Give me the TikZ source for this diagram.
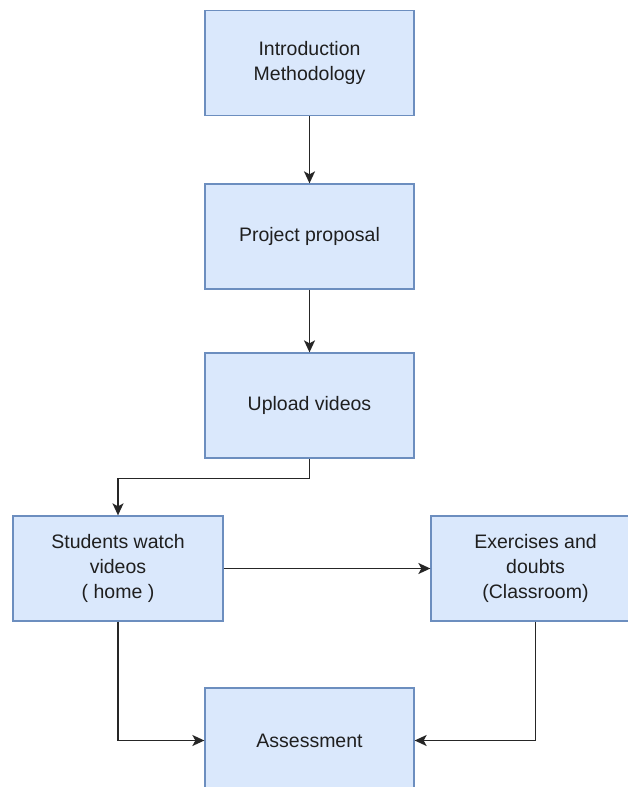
\documentclass[tikz,border=0pt]{standalone}
\usepackage{fontspec}
\setmainfont{Liberation Sans}
\usetikzlibrary{arrows.meta}
\definecolor{boxfill}{HTML}{DAE8FC}
\definecolor{boxline}{HTML}{6C8EBF}
\definecolor{txt}{HTML}{1F1F1F}
\begin{document}
\begin{tikzpicture}[x=1pt,y=-1pt,
  flowbox/.style={draw=boxline,fill=boxfill,line width=1.3pt,minimum width=209pt,minimum height=105pt,
    align=center,text=txt,font=\fontsize{19.5}{25}\selectfont,inner sep=0pt},
  arr/.style={draw=black!85,line width=1.6pt,-{Stealth[length=12pt,width=11pt,inset=3pt]}}]
\useasboundingbox (0,0) rectangle (628,787);
\clip (0,0) rectangle (628,787);
\node[flowbox] (b1) at (309.5,63) {Introduction\\Methodology};
\node[flowbox] (b2) at (309.5,236.5) {Project proposal};
\node[flowbox] (b3) at (309.5,405.5) {Upload videos};
\node[flowbox,minimum width=210pt] (b4) at (118,568.5) {Students watch\\videos\\( home )};
\node[flowbox] (b5) at (535.5,568.5) {Exercises and\\doubts\\(Classroom)};
\node[flowbox] (b6) at (309.5,740.5) {Assessment};
\draw[arr] (b1.south) -- (b2.north);
\draw[arr] (b2.south) -- (b3.north);
\draw[arr] (b3.south) -- ++(0,20) -| (b4.north);
\draw[arr] (b4.east) -- (b5.west);
\draw[arr] (b4.south) |- (b6.west);
\draw[arr] (b5.south) |- (b6.east);
\end{tikzpicture}
\end{document}
